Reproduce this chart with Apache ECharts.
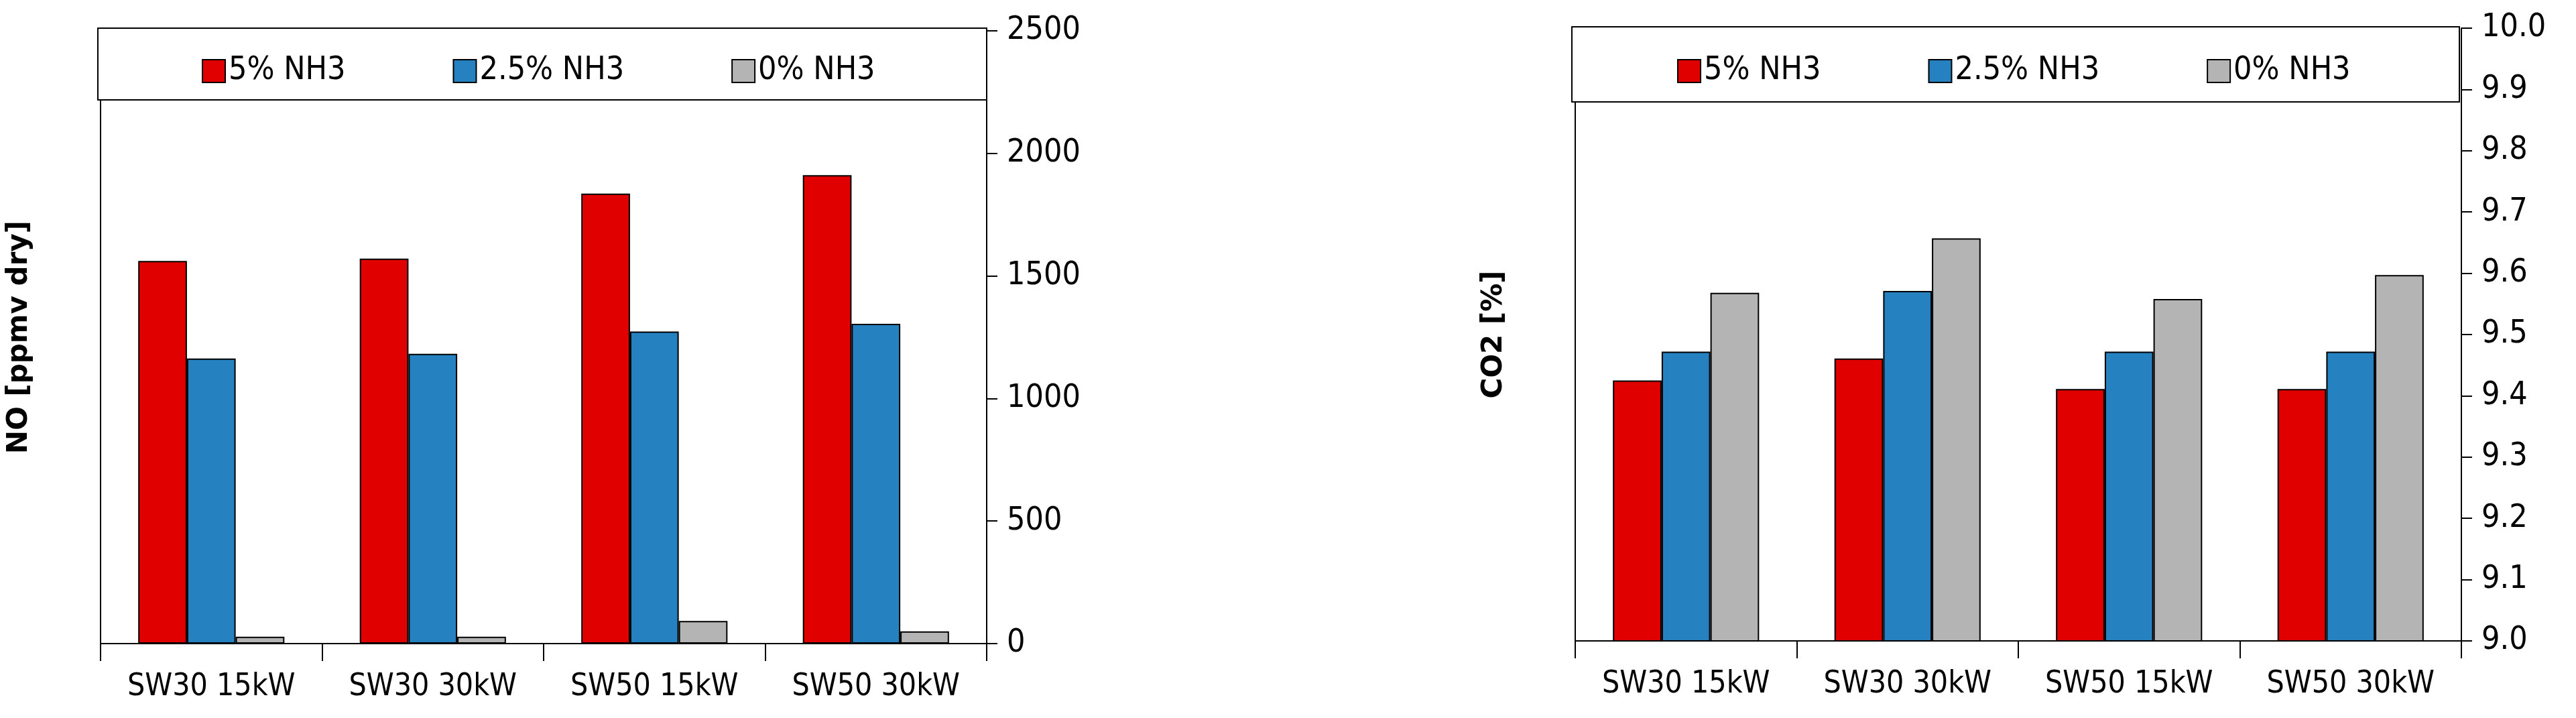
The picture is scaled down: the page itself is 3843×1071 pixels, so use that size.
<!DOCTYPE html>
<html>
<head>
<meta charset="utf-8">
<script src="https://cdn.jsdelivr.net/npm/echarts@6/dist/echarts.min.js"></script>
<style>html,body{margin:0;padding:0;background:#fff}#c{width:3843px;height:1071px}</style>
</head>
<body>
<div id="c"></div>
<script>
const categories = ['SW30 15kW', 'SW30 30kW', 'SW50 15kW', 'SW50 30kW']
const seriesNames = ['5% NH3', '2.5% NH3', '0% NH3']
const colors = ['#e00000', '#2581c0', '#b4b4b4']
// NO [ppmv dry]
const no5 = [1561, 1571, 1836, 1911]
const no25 = [1163, 1182, 1273, 1305]
const no0 = [28, 28, 92, 50]
// CO2 [%]
const co5 = [9.425, 9.461, 9.411, 9.411]
const co25 = [9.472, 9.571, 9.472, 9.472]
const co0 = [9.568, 9.657, 9.558, 9.597]

const font = '"DejaVu Sans Condensed", "Liberation Sans", sans-serif'
const blk = '#000'

const makeGrid = (left, top, bottom) => ({ left: left, width: 1322, top: top, bottom: bottom })

const xAxisCfg = (gi) => ({
  type: 'category',
  gridIndex: gi,
  data: categories,
  axisLine: { lineStyle: { color: blk, width: 2 } },
  axisTick: { show: true, length: 26, inside: false, lineStyle: { color: blk, width: 2 } },
  axisLabel: { color: blk, fontFamily: font, fontSize: 46, margin: 42, interval: 0 }
})

const rightAxis = (gi, min, max, interval, fmt) => ({
  type: 'value',
  gridIndex: gi,
  position: 'right',
  min: min,
  max: max,
  interval: interval,
  splitLine: { show: false },
  axisLine: { show: true, lineStyle: { color: blk, width: 2 } },
  axisTick: { show: true, length: 16, lineStyle: { color: blk, width: 2 } },
  axisLabel: { color: blk, fontFamily: font, fontSize: 48, margin: 30, formatter: fmt }
})

const leftAxis = (gi, min, max, name) => ({
  type: 'value',
  gridIndex: gi,
  position: 'left',
  min: min,
  max: max,
  name: name,
  nameLocation: 'middle',
  nameRotate: 90,
  nameGap: 100,
  nameTextStyle: { color: blk, fontFamily: '"DejaVu Sans", sans-serif', fontWeight: 'bold', fontSize: 42 },
  splitLine: { show: false },
  axisLine: { show: true, lineStyle: { color: blk, width: 2 } },
  axisTick: { show: false },
  axisLabel: { show: false }
})

const bars = (data, i, xi, yi) => ({
  name: seriesNames[i],
  type: 'bar',
  xAxisIndex: xi,
  yAxisIndex: yi,
  data: data,
  barGap: '0%',
  barCategoryGap: '34%',
  itemStyle: { color: colors[i], borderColor: blk, borderWidth: 2 }
})

const legendCfg = (left) => ({
  left: left,
  top: 77,
  itemWidth: 34,
  itemHeight: 34,
  itemGap: 160,
  icon: 'rect',
  data: seriesNames.map((n) => ({ name: n, itemStyle: { borderColor: blk, borderWidth: 2 } })),
  textStyle: { color: blk, fontFamily: font, fontSize: 48 },
  z: 20
})

const chart = echarts.init(document.getElementById('c'))
chart.setOption({
  animation: false,
  backgroundColor: '#fff',
  grid: [makeGrid(150, 46, 111), makeGrid(2350, 42, 115)],
  xAxis: [xAxisCfg(0), xAxisCfg(1)],
  yAxis: [
    rightAxis(0, 0, 2500, 500, (v) => String(v)),
    leftAxis(0, 0, 2500, 'NO [ppmv dry]'),
    rightAxis(1, 9.0, 10.0, 0.1, (v) => v.toFixed(1)),
    leftAxis(1, 9.0, 10.0, 'CO2 [%]')
  ],
  legend: [legendCfg(296), legendCfg(2497)],
  graphic: [
    { type: 'rect', z: 10, shape: { x: 146, y: 42, width: 1326, height: 107 }, style: { fill: '#fff', stroke: blk, lineWidth: 2 } },
    { type: 'rect', z: 10, shape: { x: 2345, y: 40, width: 1324, height: 112 }, style: { fill: '#fff', stroke: blk, lineWidth: 2 } }
  ],
  series: [
    bars(no5, 0, 0, 0), bars(no25, 1, 0, 0), bars(no0, 2, 0, 0),
    bars(co5, 0, 1, 2), bars(co25, 1, 1, 2), bars(co0, 2, 1, 2)
  ]
})
</script>
</body>
</html>
